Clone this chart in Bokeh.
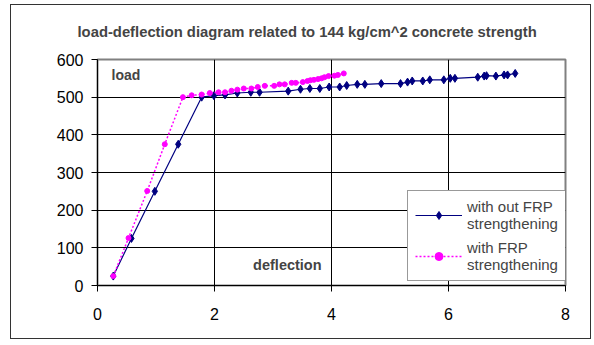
from bokeh.plotting import figure
from bokeh.models import Label, Legend, LegendItem, FixedTicker
from bokeh.embed import file_html
from bokeh.resources import INLINE

title_text = "load-deflection diagram related to 144 kg/cm^2 concrete strength"
x_ticks = [0, 2, 4, 6, 8]
y_ticks = [0, 100, 200, 300, 400, 500, 600]

# without FRP strengthening
defl_plain = [0.27, 0.58, 0.98, 1.38, 1.78, 1.99, 2.18, 2.39, 2.62, 2.77, 3.26, 3.47, 3.63,
              3.80, 3.96, 4.14, 4.26, 4.44, 4.57, 4.85, 5.18, 5.30, 5.38, 5.56, 5.68, 5.92,
              6.03, 6.11, 6.50, 6.61, 6.65, 6.81, 6.95, 7.01, 7.14]
load_plain = [25, 125, 250, 375, 500, 504, 506, 511, 513, 513, 516, 521, 523,
              523, 527, 527, 531, 534, 534, 536, 536, 540, 543, 543, 546, 546,
              550, 550, 553, 556, 557, 556, 559, 559, 563]

# with FRP strengthening
defl_frp = [0.27, 0.53, 0.85, 1.15, 1.46, 1.61, 1.78, 1.92, 2.07, 2.18, 2.29, 2.39, 2.50,
            2.63, 2.74, 2.86, 3.02, 3.11, 3.20, 3.32, 3.39, 3.51, 3.59, 3.64, 3.70, 3.77,
            3.83, 3.88, 3.95, 4.05, 4.11, 4.21]
load_frp = [25, 126, 251, 375, 500, 505, 507, 511, 513, 513, 517, 520, 523,
            523, 527, 530, 530, 534, 534, 538, 538, 540, 543, 545, 546, 548,
            550, 553, 556, 557, 559, 563]

FONT = "Liberation Sans"

p = figure(width=581, height=335, output_backend="svg", toolbar_location=None,
           x_range=(0, 8), y_range=(0, 600),
           min_border_left=86, min_border_right=27, min_border_top=54, min_border_bottom=55)
p.styles = {"margin-left": "10px", "margin-top": "4px", "border": "1.5px solid #333333"}
p.title.text = title_text
p.title.text_font = FONT
p.title.text_font_size = "14.8px"
p.title.text_font_style = "bold"
p.title.align = "left"
p.title.offset = -20
p.title.vertical_align = "top"
p.title.standoff = 36
p.background_fill_color = "white"
p.border_fill_color = "white"
p.outline_line_color = "#808080"
p.outline_line_width = 2

for ax in (p.xaxis, p.yaxis):
    ax.axis_line_color = "black"
    ax.major_tick_line_color = "black"
    ax.major_tick_out = 6
    ax.major_tick_in = 0
    ax.minor_tick_line_color = None
    ax.major_label_text_font = FONT
    ax.major_label_text_font_size = "16px"
    ax.major_label_text_color = "black"
p.xaxis.ticker = FixedTicker(ticks=x_ticks)
p.yaxis.ticker = FixedTicker(ticks=y_ticks)
p.xaxis.major_label_standoff = 16
p.yaxis.major_label_standoff = 8

p.xgrid.ticker = FixedTicker(ticks=x_ticks)
p.ygrid.ticker = FixedTicker(ticks=y_ticks)
p.grid.grid_line_color = "black"
p.grid.grid_line_width = 1

l1 = p.line(defl_plain, load_plain, line_color="#000080", line_width=1.2)
m1 = p.scatter(defl_plain, load_plain, marker="diamond", size=8,
               fill_color="#000080", line_color="#000080")
l2 = p.line(defl_frp, load_frp, line_color="#FF00FF", line_width=1.5, line_dash="2 2")
m2 = p.scatter(defl_frp, load_frp, marker="circle", size=5,
               fill_color="#FF00FF", line_color="#FF00FF")

legend = Legend(items=[
    LegendItem(label="with out FRP\nstrengthening", renderers=[l1, m1]),
    LegendItem(label="with FRP\nstrengthening", renderers=[l2, m2]),
], location=(310, 4))
legend.label_text_font = FONT
legend.label_text_font_size = "15px"
legend.border_line_color = "#333333"
legend.border_line_width = 1
legend.glyph_width = 47
legend.padding = 7
legend.spacing = 7
legend.margin = 0
legend.background_fill_alpha = 1
p.add_layout(legend)

p.add_layout(Label(x=0.24, y=559, text="load", text_font=FONT, text_font_size="14px",
                   text_font_style="bold", text_baseline="middle"))
p.add_layout(Label(x=2.66, y=55, text="deflection", text_font=FONT, text_font_size="14.5px",
                   text_font_style="bold", text_baseline="middle"))

open("out.html", "w").write(file_html(p, INLINE))
